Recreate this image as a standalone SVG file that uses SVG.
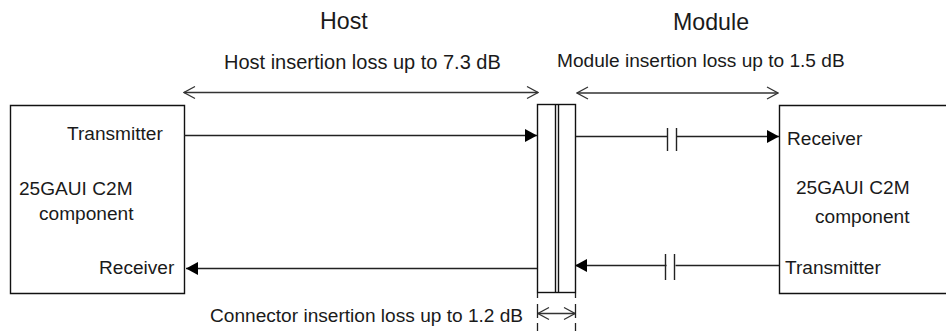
<svg xmlns="http://www.w3.org/2000/svg" width="946" height="331" viewBox="0 0 946 331">
<defs>
<marker id="solid" markerUnits="userSpaceOnUse" markerWidth="13" markerHeight="14" refX="12" refY="7" orient="auto-start-reverse"><path d="M0,0.5 L12,7 L0,13.500 Z" fill="#000"/></marker>
<marker id="open" markerUnits="userSpaceOnUse" markerWidth="13" markerHeight="14" refX="12" refY="7" orient="auto-start-reverse"><path d="M1,1 L12,7 L1,13" fill="none" stroke="#333" stroke-width="1.2"/></marker>
</defs>
<style>
text{font-family:"Liberation Sans",Arial,sans-serif;font-size:19.1px;fill:#1a1a1a}
.h{font-size:23.200px}
.t{font-size:20px}
.box{fill:#fff;stroke:#111;stroke-width:1.4}
.ln{fill:none;stroke:#222;stroke-width:1.4}
.dim{fill:none;stroke:#333;stroke-width:1.3}
.tick{fill:none;stroke:#222;stroke-width:1.3}
</style>
<rect width="946" height="331" fill="#fff"/>
<g id="labels">
<text class="h" x="320" y="29">Host</text>
<text class="h" x="673" y="30">Module</text>
<text class="t" x="224" y="69">Host insertion loss up to 7.3 dB</text>
<text x="557" y="67">Module insertion loss up to 1.5 dB</text>
<text x="210" y="322">Connector insertion loss up to 1.2 dB</text>
</g>
<g id="host">
<path class="box" d="M184.500,105.500H10.500V293.500H184.500Z"/>
<text x="67" y="140">Transmitter</text>
<text x="19" y="195">25GAUI C2M</text>
<text x="39" y="220">component</text>
<text x="99" y="274">Receiver</text>
</g>
<g id="module">
<path class="box" d="M946,105.500H779.500V293.500H946"/>
<text x="787" y="145">Receiver</text>
<text x="796" y="194">25GAUI C2M</text>
<text x="815" y="223">component</text>
<text x="785" y="274">Transmitter</text>
</g>
<g id="connector">
<rect class="box" x="537.500" y="104.500" width="38" height="188"/>
<path class="box" d="M555.500,104.500V292.500M558.500,104.500V292.500"/>
</g>
<g id="connectors">
<path class="ln" d="M184,135.500H537" marker-end="url(#solid)"/>
<path class="ln" d="M537,268.500H186" marker-end="url(#solid)"/>
<path class="ln" d="M576,136.500H667.500M676.500,136.500H779" marker-end="url(#solid)"/>
<path class="ln" d="M779,265.500H675.500M666.500,265.500H575" marker-end="url(#solid)"/>
<path class="ln" d="M667.500,128V151M676.500,128V151M665.500,254V280M674.500,254V280"/>
<path class="dim" d="M184,92.500H538" marker-start="url(#open)" marker-end="url(#open)"/>
<path class="dim" d="M577,93H778" marker-start="url(#open)" marker-end="url(#open)"/>
<path class="dim" d="M538,313.500H575" marker-start="url(#open)" marker-end="url(#open)"/>
<path class="tick" d="M537.500,293V298M537.500,304V318M537.500,323V331M575.500,293V298M575.500,304V318M575.500,323V331"/>
</g>
</svg>
